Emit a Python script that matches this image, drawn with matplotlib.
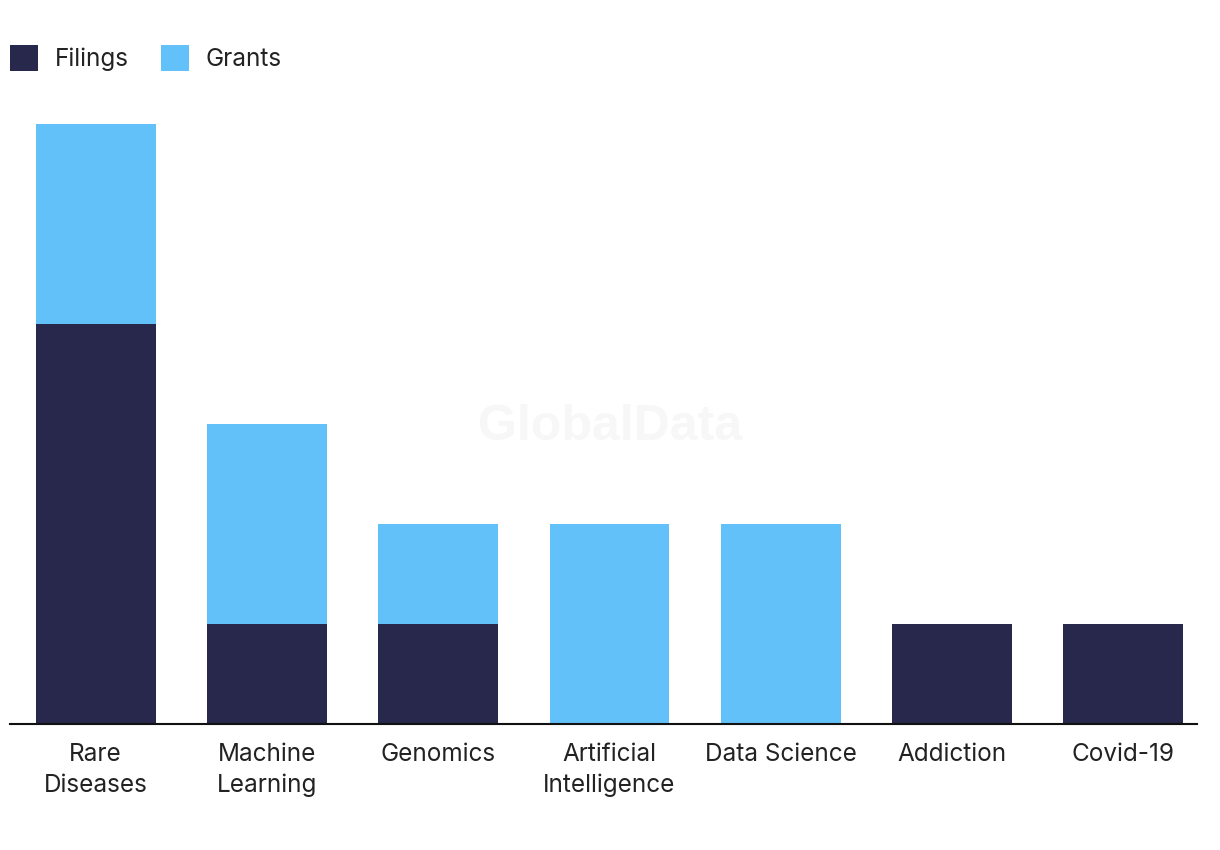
import matplotlib.pyplot as plt
import numpy as np

# data
categories = ['Rare\nDiseases', 'Machine\nLearning', 'Genomics', 'Artificial\nIntelligence',
              'Data Science', 'Addiction', 'Covid-19']
filings = [4, 1, 1, 0, 0, 1, 1]
grants = [2, 2, 1, 2, 2, 0, 0]

dark = '#27284b'
light = '#62c1f9'

plt.rcParams['font.family'] = ['Inter', 'DejaVu Sans']

fig = plt.figure(figsize=(12.2, 8.5), dpi=100)
ax = fig.add_axes([10/1220, 1-724/850, 1187/1220, 600/850])

x = np.arange(len(categories))
ax.bar(x, filings, width=0.70, color=dark, label='Filings')
ax.bar(x, grants, width=0.70, bottom=filings, color=light, label='Grants')

ax.set_xlim(-0.5, 6.43)
ax.set_ylim(0, 6)
ax.set_yticks([])
ax.set_xticks(x)
ax.set_xticklabels(categories, fontsize=17.5, color='#222222', linespacing=1.4)
ax.tick_params(axis='x', length=0, pad=14)
for s in ['top', 'right', 'left']:
    ax.spines[s].set_visible(False)
ax.spines['bottom'].set_color('#111111')
ax.spines['bottom'].set_linewidth(1.5)

# watermark
fig.text(610/1220, 1-427/850, 'GlobalData', fontsize=36, fontweight='bold',
         color='#f7f7f7', ha='center', va='center', zorder=0, family='Liberation Sans')

leg = fig.legend(loc='upper left', bbox_to_anchor=(10/1220, 1-45/850), ncol=2, frameon=False,
                 fontsize=17.5, handlelength=1.15, handleheight=1.3, handletextpad=0.7,
                 columnspacing=1.3, borderpad=0, borderaxespad=0, labelcolor='#222222')

fig.savefig('out.png', dpi=100, facecolor='white')
